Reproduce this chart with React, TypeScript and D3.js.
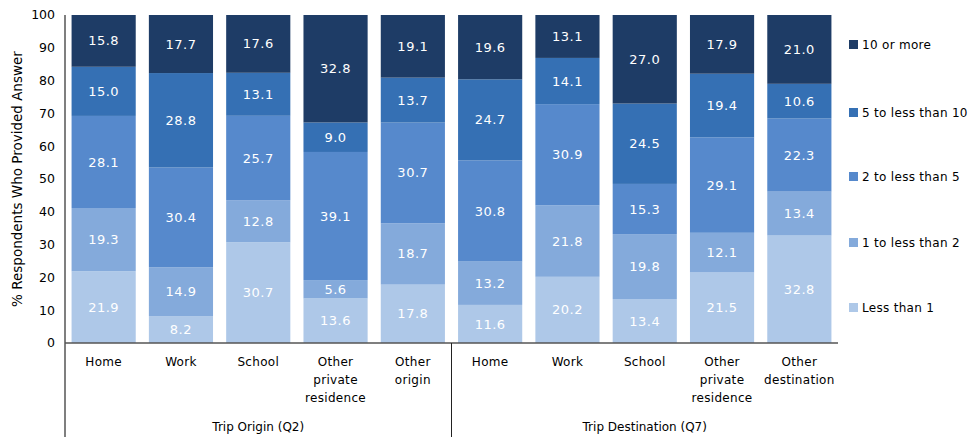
import React from "react";
import * as d3 from "d3";

const categories = ["Home", "Work", "School", "Other private residence", "Other origin", "Home", "Work", "School", "Other private residence", "Other destination"];
const categoryLines = [["Home"], ["Work"], ["School"], ["Other", "private", "residence"], ["Other", "origin"], ["Home"], ["Work"], ["School"], ["Other", "private", "residence"], ["Other", "destination"]];
const groups = ["Trip Origin (Q2)", "Trip Destination (Q7)"];
const seriesNames = ["Less than 1", "1 to less than 2", "2 to less than 5", "5 to less than 10", "10 or more"];
const lessThan1 = [21.9, 8.2, 30.7, 13.6, 17.8, 11.6, 20.2, 13.4, 21.5, 32.8];
const oneToTwo = [19.3, 14.9, 12.8, 5.6, 18.7, 13.2, 21.8, 19.8, 12.1, 13.4];
const twoToFive = [28.1, 30.4, 25.7, 39.1, 30.7, 30.8, 30.9, 15.3, 29.1, 22.3];
const fiveToTen = [15.0, 28.8, 13.1, 9.0, 13.7, 24.7, 14.1, 24.5, 19.4, 10.6];
const tenOrMore = [15.8, 17.7, 17.6, 32.8, 19.1, 19.6, 13.1, 27.0, 17.9, 21.0];
const yTicks = [0, 10, 20, 30, 40, 50, 60, 70, 80, 90, 100];

const colors = ["#aec8e8", "#84aadb", "#5689cc", "#3570b4", "#1e3c66"];
const FONT = "'DejaVu Sans', sans-serif";

export default function App() {
  const W = 972, H = 437;
  const left = 65, right = 838, top = 15, bottom = 343;
  const series = [lessThan1, oneToTwo, twoToFive, fiveToTen, tenOrMore];
  const x = d3.scaleBand<number>().domain(d3.range(categories.length)).range([left, right]).paddingInner(0.17).paddingOuter(0.085);
  const y = d3.scaleLinear().domain([0, 100]).range([bottom, top]);
  // normalize each column to 100% (values are rounded so sums drift slightly)
  const rows = categories.map((c, i) => {
    const r: any = { i };
    const total = d3.sum(series, (s) => s[i]);
    series.forEach((s, k) => (r["s" + k] = (s[i] / total) * 100));
    return r;
  });
  const stack = d3.stack<any>().keys(series.map((_, k) => "s" + k));
  const stacked = stack(rows);
  const groupMid = (g: number) => left + (right - left) * (g * 0.5 + 0.25);
  const divider = left + (right - left) / 2;
  const legendY = [45, 113, 177, 243, 308];

  return (
    <svg width={W} height={H} style={{ position: "absolute", left: 0, top: 0 }}>
      <rect width={W} height={H} fill="#fff" />
      {stacked.map((layer, k) => (
        <g key={k}>
          {layer.map((d, i) => {
            const y0 = y(d[0]);
            const y1 = y(Math.min(100, d[1]));
            const bx = x(i)!;
            return (
              <g key={i}>
                <rect x={bx} y={y1} width={x.bandwidth()} height={y0 - y1} fill={colors[k]} />
                <text x={bx + x.bandwidth() / 2} y={(y0 + y1) / 2} dy="0.35em" textAnchor="middle" fill="#fff" fontFamily={FONT} fontSize={13} letterSpacing={0.5}>
                  {series[k][i].toFixed(1)}
                </text>
              </g>
            );
          })}
        </g>
      ))}
      <line x1={left} x2={left} y1={top} y2={H} stroke="#555" strokeWidth={1.5} />
      <line x1={left} x2={right} y1={bottom} y2={bottom} stroke="#555" strokeWidth={1.5} />
      <line x1={divider} x2={divider} y1={bottom} y2={H} stroke="#222" strokeWidth={1} />
      {yTicks.map((t) => (
        <text key={t} x={55} y={y(t)} dy="0.35em" textAnchor="end" fontFamily={FONT} fontSize={12.5} fill="#000">
          {t}
        </text>
      ))}
      <text transform={`translate(22,${(top + bottom) / 2}) rotate(-90)`} textAnchor="middle" fontFamily={FONT} fontSize={13.5} fill="#000">
        % Respondents Who Provided Answer
      </text>
      {categoryLines.map((lines, i) => (
        <text key={i} x={x(i)! + x.bandwidth() / 2} y={366} textAnchor="middle" fontFamily={FONT} fontSize={12} fill="#000" letterSpacing={0.3}>
          {lines.map((l, j) => (
            <tspan key={j} x={x(i)! + x.bandwidth() / 2} dy={j === 0 ? 0 : 18}>{l}</tspan>
          ))}
        </text>
      ))}
      {groups.map((g, k) => (
        <text key={k} x={groupMid(k)} y={431} textAnchor="middle" fontFamily={FONT} fontSize={12} fill="#000">
          {g}
        </text>
      ))}
      {seriesNames.map((n, k) => (
        <g key={k}>
          <rect x={849} y={legendY[4 - k] - 5} width={9} height={9} fill={colors[k]} />
          <text x={862} y={legendY[4 - k]} dy="0.35em" fontFamily={FONT} fontSize={12} fill="#000" letterSpacing={0.3}>
            {n}
          </text>
        </g>
      ))}
    </svg>
  );
}
